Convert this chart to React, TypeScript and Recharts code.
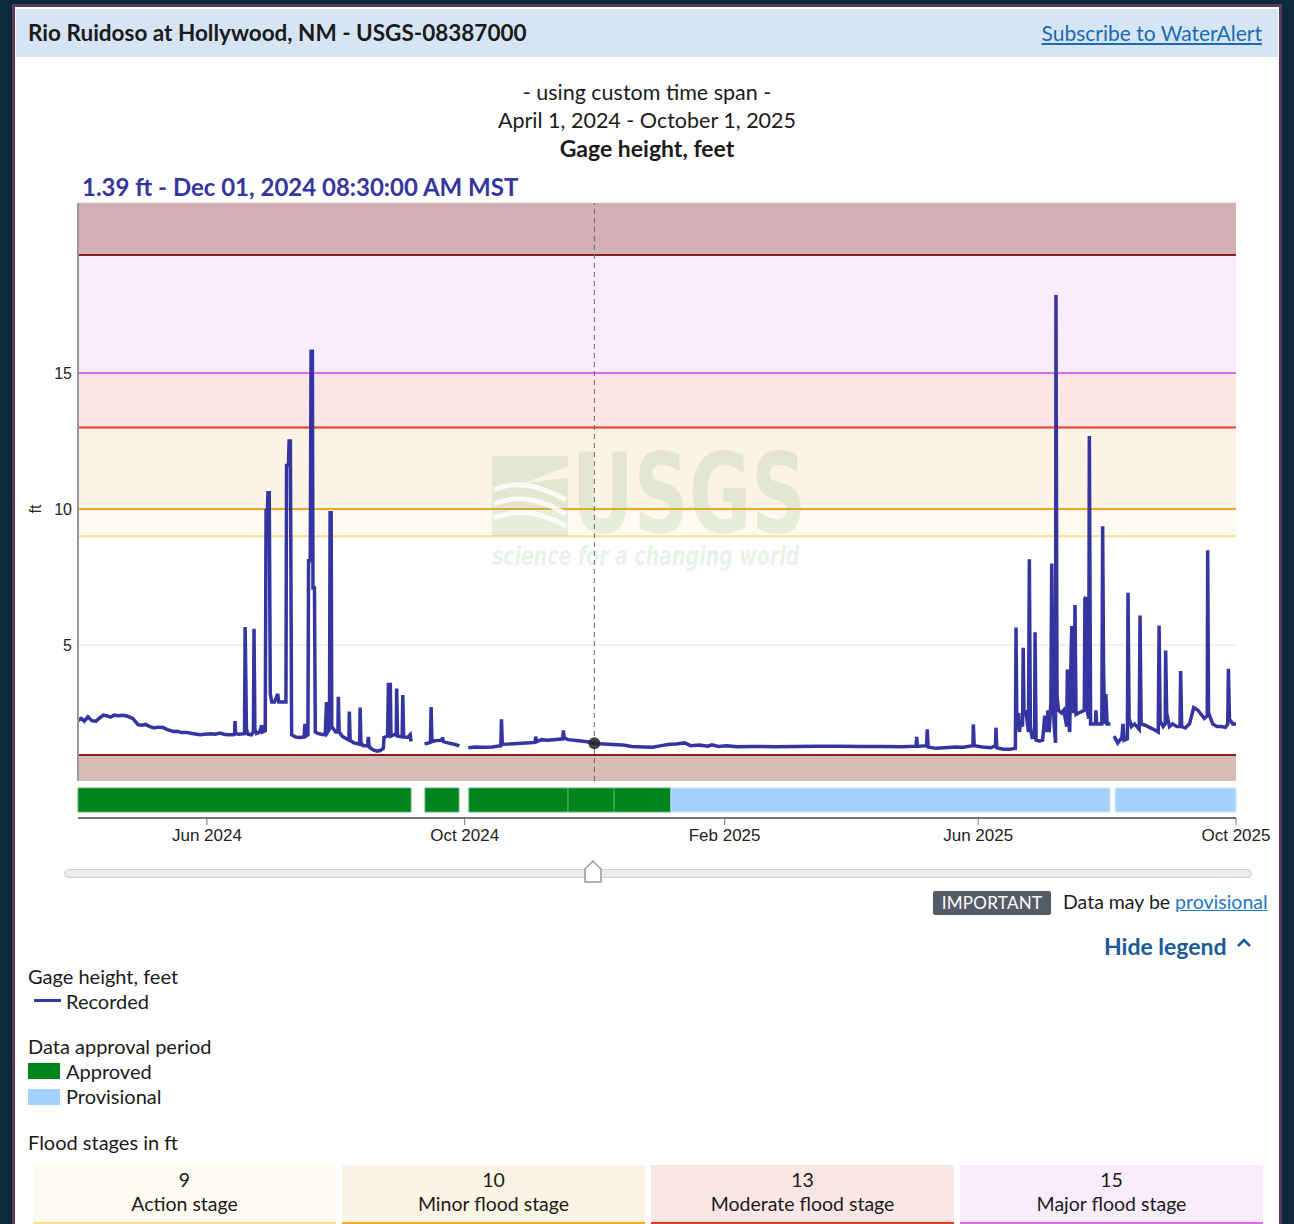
import React from 'react'
import { LineChart, Line, XAxis, YAxis, CartesianGrid, ReferenceArea, ReferenceLine, ReferenceDot } from 'recharts'

// x values are days since April 1, 2024
const tickDays = [61, 183, 306, 426, 548]
const tickLabels = ['Jun 2024', 'Oct 2024', 'Feb 2025', 'Jun 2025', 'Oct 2025']
const yTicks = [5, 10, 15]

const floodStages = [9, 10, 13, 15]
const floodStageNames = ['Action stage', 'Minor flood stage', 'Moderate flood stage', 'Major flood stage']
const stageFills = ['#fefaf0', '#fbf3e3', '#fbe6e6', '#f9edfb']
const stageLines = ['#f7df8c', '#efa923', '#e8392b', '#df6ae9']
// dark limit bands at the bottom and top of the plot
const limitLines = [0.96, 19.34]

const approvedPeriods = [[0, 157.6], [164.2, 180.3], [185, 231.9], [231.9, 253.7], [253.7, 280.6]]
const provisionalPeriods = [[280.6, 488.4], [490.8, 548]]

const cursorDay = 244.35
const cursorFeet = 1.39

const recordedSpring2024 = [
  [0, 2.22], [1.5, 2.3], [3, 2.2], [4.7, 2.36], [6.5, 2.22], [8.5, 2.2], [10, 2.3], [12, 2.42], [13.6, 2.4],
  [15.5, 2.35], [17, 2.42], [19, 2.4], [21.3, 2.42], [23.5, 2.38], [26, 2.29], [28.4, 2.07], [30, 2.05],
  [32, 2.08], [34, 2.0], [36, 1.95], [38, 1.98], [40.2, 1.97], [42, 1.9], [45, 1.82], [47, 1.83], [49, 1.78],
  [51.6, 1.78], [54, 1.75], [57.7, 1.7], [60, 1.72], [63, 1.74], [65, 1.72], [67.2, 1.76], [69, 1.72],
  [71, 1.7], [73.4, 1.7], [74.1, 1.72], [74.3, 2.2], [74.6, 1.75], [76, 1.72], [78.8, 1.74], [79.1, 5.66],
  [79.4, 3.86], [79.7, 1.9], [80.5, 1.72], [82, 1.7], [83, 1.8], [83.3, 5.6], [83.7, 1.9], [84.5, 1.75],
  [86, 1.8], [86.9, 2.05], [87.3, 1.8], [88.6, 1.85], [89.0, 10.0], [89.6, 9.9], [89.9, 10.6], [90.5, 10.6],
  [91.0, 3.2], [91.7, 2.9], [93, 2.9], [94.5, 3.2], [95, 2.9], [96.5, 2.9], [98.4, 2.9], [98.7, 11.6],
  [99.6, 11.6], [99.9, 12.5], [100.5, 12.5], [101.1, 1.7], [103, 1.62], [105, 1.6], [107, 1.62], [107.4, 2.1],
  [107.8, 1.65], [108.8, 1.7], [109.1, 8.1], [109.9, 8.1], [110.3, 15.8], [110.9, 15.8], [111.2, 7.1],
  [111.9, 7.1], [112.3, 1.8], [113.5, 1.75], [115, 1.72], [117, 1.7], [117.6, 2.9], [118.2, 1.8], [119.0, 1.9],
  [119.3, 9.86], [119.8, 9.86], [120.1, 2.0], [121, 1.9], [122, 1.8], [123, 1.8], [123.2, 3.1], [123.6, 1.8],
  [125, 1.65], [127, 1.55], [128.2, 1.5], [128.4, 2.55], [128.8, 1.5], [130.5, 1.4], [132, 1.38], [133.3, 1.35],
  [133.5, 2.7], [133.9, 1.4], [135, 1.3], [137, 1.3], [137.4, 1.62], [137.8, 1.25], [139.5, 1.15], [141.4, 1.1],
  [143, 1.12], [144.5, 1.2], [144.8, 1.6], [146.5, 1.65], [146.9, 3.55], [147.8, 3.55], [148.1, 1.65],
  [149.5, 1.7], [150.6, 1.7], [150.8, 3.4], [151.2, 1.65], [153.4, 1.62], [153.7, 3.16], [154.1, 1.62],
  [156, 1.6], [157.2, 1.7], [157.6, 1.45],
]

const recordedSep2024 = [
  [164.0, 1.37], [165, 1.38], [166.8, 1.42], [167.1, 2.72], [167.5, 1.45], [169, 1.48], [172.2, 1.5],
  [172.5, 1.6], [172.9, 1.45], [175, 1.4], [178, 1.35], [180.5, 1.29],
]

const recordedWinter = [
  [184.7, 1.22], [188, 1.25], [192, 1.24], [196, 1.25], [200.1, 1.3], [200.4, 2.27], [200.8, 1.35],
  [204, 1.36], [208, 1.38], [212, 1.4], [216.3, 1.42], [216.6, 1.63], [217, 1.45], [219.5, 1.52], [222, 1.5],
  [225, 1.52], [229.4, 1.55], [229.7, 1.86], [230.1, 1.58], [232, 1.52], [237, 1.48], [241, 1.44],
  [244, 1.39], [247, 1.37], [253, 1.34], [258, 1.32], [262, 1.27], [268, 1.25], [272, 1.24], [276, 1.3],
  [280, 1.35], [283, 1.36], [287, 1.4], [290, 1.3], [294, 1.32], [298, 1.28], [300, 1.33], [303, 1.27],
  [307, 1.3], [312, 1.26], [320, 1.27], [330, 1.26], [340, 1.27], [350, 1.28], [360, 1.28], [370, 1.27],
  [380, 1.27], [390, 1.26], [396.6, 1.28], [396.9, 1.62], [397.2, 1.27], [401.6, 1.3], [401.9, 1.9],
  [402.3, 1.25], [406, 1.2], [410, 1.22], [415, 1.25], [419, 1.24], [423.5, 1.3], [423.7, 2.08], [424.1, 1.3],
  [428, 1.25], [432, 1.22], [434.2, 1.3], [434.4, 1.96], [434.8, 1.22], [438, 1.17], [441, 1.17], [443.6, 1.2],
  [443.9, 5.64], [444.3, 1.9], [445.2, 2.5], [445.5, 1.8], [446.2, 2.2], [447.0, 2.0], [447.3, 4.9],
  [447.7, 2.4], [448.5, 2.6], [449.8, 1.8], [450.2, 8.15], [450.7, 2.0], [451.5, 1.6], [452.7, 1.6],
  [452.9, 5.47], [453.4, 1.5], [455, 1.47], [456.5, 1.5], [457.5, 2.4], [458.3, 1.8], [459, 2.6], [459.6, 1.8],
  [460.4, 2.9], [460.8, 8.0], [461.4, 3.0], [462.0, 2.0], [462.6, 1.4], [462.8, 17.87], [463.3, 3.1],
  [464, 2.6], [465.5, 2.5], [466.5, 2.6], [467.9, 2.0], [468.2, 4.1], [468.6, 2.3], [469.3, 1.8], [470.0, 4.8],
  [470.3, 5.7], [470.8, 2.5], [471.5, 3.0], [471.8, 6.47], [472.3, 2.45], [473.5, 2.5], [475, 2.55],
  [476.2, 2.6], [476.5, 6.7], [476.9, 6.76], [477.3, 2.7], [478.3, 2.3], [478.6, 12.68], [479.2, 2.1],
  [480.5, 2.1], [481.5, 2.1], [481.7, 2.6], [482.1, 2.1], [484.5, 2.1], [484.9, 9.37], [485.3, 4.3],
  [485.8, 2.1], [486.4, 3.2], [487, 2.1], [488.6, 2.1],
]

const recordedAug2025 = [
  [490.3, 1.65], [492, 1.4], [494, 1.6], [494.5, 2.1], [495, 1.5], [496.6, 1.55], [496.9, 6.92], [497.4, 2.3],
  [498.5, 2.0], [500, 2.1], [502.2, 1.9], [502.6, 6.08], [503.1, 2.1], [505, 2.05], [507, 1.97], [509, 1.9],
  [511.2, 1.8], [511.6, 5.72], [512.1, 2.2], [513.5, 2.0], [514.5, 2.1], [514.7, 4.8], [515.2, 2.5],
  [516.5, 2.0], [518, 2.1], [520, 2.0], [521.5, 2.0], [521.8, 4.04], [522.3, 2.0], [524, 1.95], [526, 2.1],
  [528, 2.7], [530, 2.6], [531, 2.5], [533, 2.3], [534.4, 2.4], [534.6, 8.48], [535.0, 2.5], [537, 2.1],
  [539, 2.0], [541, 2.0], [543, 1.97], [544.1, 2.1], [544.4, 4.13], [544.9, 2.27], [546.5, 2.1], [548, 2.1],
]

const segments = [recordedSpring2024, recordedSep2024, recordedWinter, recordedAug2025]

// join the segments with a null point so the line breaks at the data gaps
const gageData: { day: number; ft: number | null }[] = []
segments.forEach((seg, i) => {
  if (i > 0) {
    const prev = segments[i - 1]
    gageData.push({ day: (prev[prev.length - 1][0] + seg[0][0]) / 2, ft: null })
  }
  seg.forEach(([day, ft]) => gageData.push({ day, ft }))
})

const font = 'Lato, "Noto Sans", sans-serif'
const axisFont = '"Liberation Sans", Arial, sans-serif'
const lineColor = '#3535a2'
const Y_MAX = 21.25

function Watermark() {
  const c = 'rgba(120,170,120,0.17)'
  const narrow = '"Liberation Sans Narrow", "DejaVu Sans Condensed", sans-serif'
  return (
    <div style={{ position: 'absolute', left: 492, top: 452, width: 320, height: 120, pointerEvents: 'none' }}>
      <svg width={80} height={84} style={{ position: 'absolute', left: 0, top: 4 }}>
        <path d="M0 0 H76 V10 L30 28 Q50 24 76 22 V80 H0 Z" fill={c} />
        <path d="M2 34 Q30 20 74 44 M2 48 Q34 34 74 58 M2 62 Q36 48 74 70" stroke="white" strokeWidth={5} fill="none" opacity={0.8} />
      </svg>
      <div style={{ position: 'absolute', left: 80, top: -2, fontFamily: narrow, fontWeight: 700, fontSize: 110, color: c, transform: 'scaleX(0.77)', transformOrigin: 'left', lineHeight: '88px' }}>USGS</div>
      <div style={{ position: 'absolute', left: 0, top: 90, fontFamily: narrow, fontWeight: 700, fontStyle: 'italic', fontSize: 27, color: c, whiteSpace: 'nowrap', lineHeight: '28px', transform: 'scaleX(0.78)', transformOrigin: 'left' }}>science for a changing world</div>
    </div>
  )
}

function FtLabel(props: any) {
  const { viewBox } = props
  const x = viewBox.x + 17
  const y = viewBox.y + viewBox.height / 2 + 17
  return (
    <text x={x} y={y} transform={`rotate(-90, ${x}, ${y})`} textAnchor="middle" dominantBaseline="central" fill="#222" fontSize={16} fontFamily={axisFont}>ft</text>
  )
}

function App() {
  const txt = (left: number, top: number, size: number, extra: React.CSSProperties = {}) => ({
    position: 'absolute' as const, left, top, fontSize: size, lineHeight: `${Math.round(size * 1.3)}px`,
    color: '#1b1b1b', fontFamily: font, whiteSpace: 'nowrap' as const, ...extra,
  })

  return (
    <div style={{ position: 'absolute', left: 0, top: 0, width: 1294, height: 1224, background: '#0d2a3b', overflow: 'hidden', fontFamily: font }}>
      {/* card */}
      <div style={{ position: 'absolute', left: 12, top: 4, width: 1264, height: 1240, border: '3px solid #5a3b5e', background: '#fff' }} />
      <div style={{ position: 'absolute', left: 16, top: 9, width: 1262, height: 48, background: '#d6e5f4' }} />
      <div style={txt(28, 18, 22.5, { fontWeight: 700 })}>Rio Ruidoso at Hollywood, NM - USGS-08387000</div>
      <div style={txt(0, 19, 21, { left: 'auto', right: 32, color: '#1a6bb3', textDecoration: 'underline' })}>Subscribe to WaterAlert</div>

      <div style={{ position: 'absolute', left: 0, width: 1294, top: 78, textAlign: 'center', fontFamily: font, fontSize: 21.5, lineHeight: '28px', color: '#1b1b1b' }}>
        <div>- using custom time span -</div>
        <div>April 1, 2024 - October 1, 2025</div>
        <div style={{ fontWeight: 700, fontSize: 23 }}>Gage height, feet</div>
      </div>
      <div style={txt(82, 171, 24, { fontWeight: 700, color: '#3535a0' })}>1.39 ft - Dec 01, 2024 08:30:00 AM MST</div>

      {/* main hydrograph */}
      <div style={{ position: 'absolute', left: 0, top: 180 }}>
        <LineChart width={1294} height={601} data={gageData} margin={{ top: 23, right: 58, left: 18, bottom: 0 }}>
          <ReferenceArea y1={0} y2={limitLines[0]} fill="#d8bcb8" fillOpacity={1} stroke="none" />
          {floodStages.map((s, i) => (
            <ReferenceArea key={s} y1={s} y2={floodStages[i + 1] ?? limitLines[1]} fill={stageFills[i]} fillOpacity={1} stroke="none" />
          ))}
          <ReferenceArea y1={limitLines[1]} y2={Y_MAX} fill="#d4b0b6" fillOpacity={1} stroke="none" />
          <CartesianGrid vertical={false} stroke="#e4e4e4" />
          {floodStages.map((s, i) => (
            <ReferenceLine key={'l' + s} y={s} stroke={stageLines[i]} strokeWidth={2} />
          ))}
          {limitLines.map(v => (
            <ReferenceLine key={'m' + v} y={v} stroke="#8a1f1a" strokeWidth={2} />
          ))}
          <XAxis dataKey="day" type="number" domain={[0, 548]} height={0} tick={false} tickLine={false} axisLine={{ stroke: '#8f8f8f', strokeWidth: 2 }} allowDataOverflow />
          <YAxis
            width={60}
            domain={[0, Y_MAX]}
            ticks={yTicks}
            tickLine={false}
            tickSize={4}
            tickMargin={2}
            axisLine={{ stroke: '#999', strokeWidth: 2 }}
            tick={{ fill: '#222', fontSize: 16, fontFamily: axisFont }}
            label={<FtLabel />}
          />
          <ReferenceLine x={cursorDay} stroke="#666" strokeDasharray="5 4" strokeWidth={1} />
          <Line type="linear" dataKey="ft" stroke={lineColor} strokeWidth={3.5} dot={false} isAnimationActive={false} connectNulls={false} />
          <ReferenceDot x={cursorDay} y={cursorFeet} r={6} fill="#262626" fillOpacity={0.85} stroke="none" />
        </LineChart>
      </div>

      <Watermark />

      {/* approval periods + time axis */}
      <div style={{ position: 'absolute', left: 0, top: 780 }}>
        <LineChart width={1294} height={70} margin={{ top: 8, right: 58, left: 78, bottom: 0 }}>
          {approvedPeriods.map(([a, b]) => (
            <ReferenceArea key={'a' + a} x1={a} x2={b} y1={0.2} y2={1} fill="#00851c" fillOpacity={1} stroke="#5fae6c" strokeWidth={1} />
          ))}
          {provisionalPeriods.map(([a, b]) => (
            <ReferenceArea key={'p' + a} x1={a} x2={b} y1={0.2} y2={1} fill="#a3d3fc" fillOpacity={1} stroke="#c8e4fd" strokeWidth={1} />
          ))}
          <XAxis
            dataKey="day"
            type="number"
            domain={[0, 548]}
            ticks={tickDays}
            tickFormatter={(v: number) => tickLabels[tickDays.indexOf(v)]}
            height={32}
            tickSize={7}
            tickMargin={4}
            axisLine={{ stroke: '#777', strokeWidth: 2 }}
            tickLine={{ stroke: '#777' }}
            tick={{ fill: '#222', fontSize: 17, fontFamily: axisFont }}
            interval={0}
            allowDataOverflow
          />
          <YAxis hide type="number" domain={[0, 1]} allowDataOverflow />
        </LineChart>
      </div>

      {/* time span slider */}
      <div style={{ position: 'absolute', left: 64, top: 869, width: 1186, height: 7, border: '1px solid #cfcfcf', background: '#ececec', borderRadius: 5 }} />
      <svg width={22} height={26} style={{ position: 'absolute', left: 582, top: 859 }}>
        <path d="M3 10 L11 2 L19 10 V23 H3 Z" fill="#fff" stroke="#999" strokeWidth={1.5} />
      </svg>

      {/* notice and legend */}
      <div style={{ position: 'absolute', left: 933, top: 891, width: 118, height: 24, background: '#565c65', borderRadius: 2, color: '#fff', fontFamily: font, fontSize: 17, lineHeight: '24px', textAlign: 'center', letterSpacing: 0.3 }}>IMPORTANT</div>
      <div style={txt(1063, 889, 19.5)}>Data may be <span style={{ color: '#2378c3', textDecoration: 'underline' }}>provisional</span></div>
      <div style={txt(1104, 931, 23, { fontWeight: 700, color: '#1a5a96' })}>Hide legend</div>
      <svg width={16} height={12} style={{ position: 'absolute', left: 1236, top: 937 }}>
        <path d="M2 9 L8 3 L14 9" stroke="#1a5a96" strokeWidth={2.5} fill="none" />
      </svg>

      <div style={txt(28, 963, 20)}>Gage height, feet</div>
      <div style={{ position: 'absolute', left: 34, top: 999, width: 27, height: 3, background: lineColor }} />
      <div style={txt(66, 988, 20)}>Recorded</div>

      <div style={txt(28, 1033, 20)}>Data approval period</div>
      <div style={{ position: 'absolute', left: 28, top: 1063, width: 32, height: 16, background: '#00851c' }} />
      <div style={txt(66, 1058, 20)}>Approved</div>
      <div style={{ position: 'absolute', left: 28, top: 1089, width: 32, height: 16, background: '#a3d3fc' }} />
      <div style={txt(66, 1083, 20)}>Provisional</div>

      <div style={txt(28, 1129, 20)}>Flood stages in ft</div>
      {floodStages.map((s, i) => (
        <div key={'b' + s} style={{ position: 'absolute', left: 33 + i * 309, top: 1165, width: 303, height: 54, background: stageFills[i], borderBottom: `3px solid ${stageLines[i]}`, textAlign: 'center', fontFamily: font, fontSize: 19.5, lineHeight: '24px', color: '#1b1b1b', paddingTop: 3 }}>
          <div>{s}</div>
          <div>{floodStageNames[i]}</div>
        </div>
      ))}
    </div>
  )
}

export default App
